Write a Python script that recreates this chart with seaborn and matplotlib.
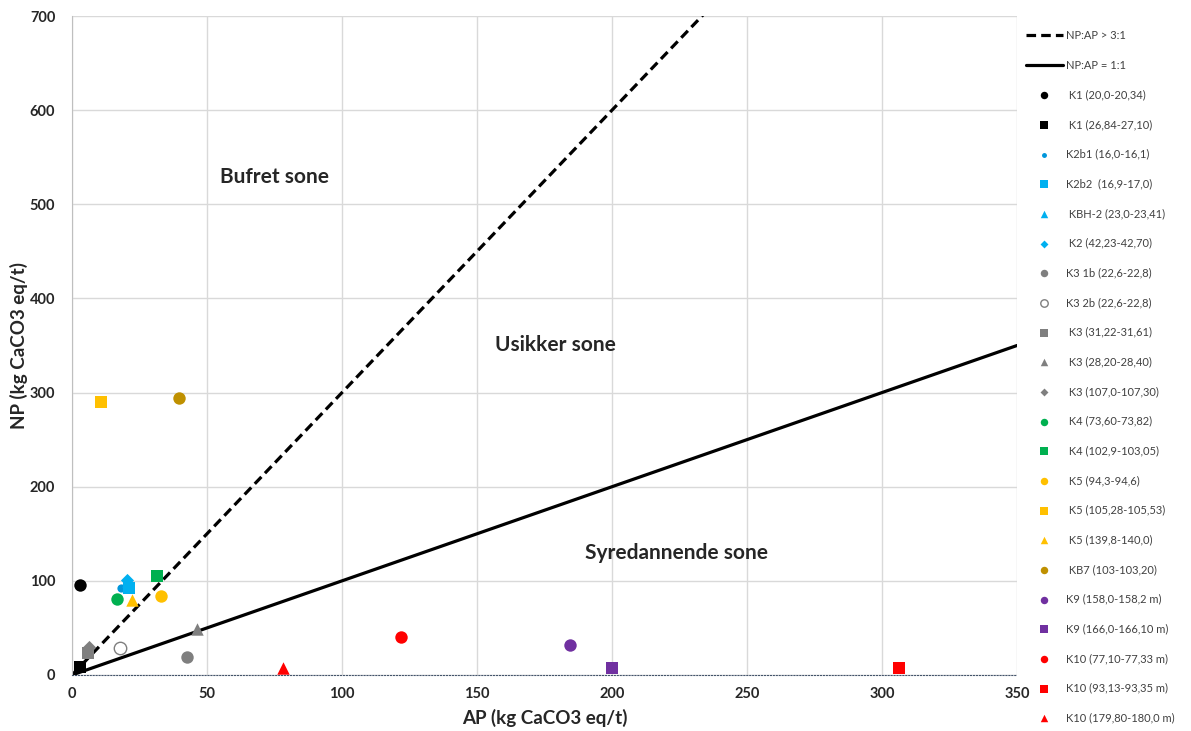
import matplotlib.pyplot as plt
import seaborn as sns
import numpy as np
from matplotlib.ticker import MultipleLocator

# sample labels (legend text) and measured values
labels = [" K1 (20,0-20,34)", " K1 (26,84-27,10)", "K2b1 (16,0-16,1)", "K2b2  (16,9-17,0)",
          " KBH-2 (23,0-23,41)", " K2 (42,23-42,70)", "K3 1b (22,6-22,8)", "K3 2b (22,6-22,8)",
          " K3 (31,22-31,61)", " K3 (28,20-28,40)", " K3 (107,0-107,30)", " K4 (73,60-73,82)",
          " K4 (102,9-103,05)", " K5 (94,3-94,6)", " K5 (105,28-105,53)", " K5 (139,8-140,0)",
          " KB7 (103-103,20)", "K9 (158,0-158,2 m)", "K9 (166,0-166,10 m)", "K10 (77,10-77,33 m)",
          "K10 (93,13-93,35 m)", "K10 (179,80-180,0 m)"]
ap = [3.0, 3.0, 18.1, 21.2, 20.9, 20.4, 42.5, 17.8, 6.0, 46.2, 6.4, 16.5,
      31.5, 33.1, 10.7, 22.1, 39.6, 184.4, 200.0, 121.9, 306.3, 78.1]
npv = [95.6, 8.5, 92.5, 92.0, 100.0, 101.0, 18.8, 29.0, 23.0, 48.6, 29.4, 81.0,
       105.0, 83.6, 290.0, 79.7, 294.0, 31.9, 7.4, 40.4, 7.4, 7.4]

# styles
markers = ["o", "s", "o", "s", "^", "D", "o", "o", "s", "^", "D", "o",
           "s", "o", "s", "^", "o", "o", "s", "o", "s", "^"]
colors = ["#000000", "#000000", "#0096DB", "#00B0F0", "#00B0F0", "#00B0F0", "#7F7F7F", "#FFFFFF",
          "#7F7F7F", "#7F7F7F", "#7F7F7F", "#00B050", "#00B050", "#FFC000", "#FFC000", "#FFC000",
          "#BF9000", "#7030A0", "#7030A0", "#FF0000", "#FF0000", "#FF0000"]

# reference ratio lines NP:AP
line_x = np.array([0, 350])
ratios = [3, 1]
ratio_labels = ["NP:AP > 3:1", "NP:AP = 1:1"]

zones = ["Bufret sone", "Usikker sone", "Syredannende sone"]
zone_x = [75, 179, 224]
zone_y = [529, 351, 130]

sns.set_style("white")
plt.rcParams["font.family"] = ["Lato", "DejaVu Sans"]

fig = plt.figure(figsize=(11.91, 7.31), dpi=100)
ax = fig.add_axes([72 / 1191, 56 / 731, 945 / 1191, 659 / 731])

sns.lineplot(x=line_x, y=ratios[0] * line_x, ax=ax, color="black", lw=2.3,
             linestyle=(0, (3, 1.6)), label=ratio_labels[0])
sns.lineplot(x=line_x, y=ratios[1] * line_x, ax=ax, color="black", lw=2.3,
             label=ratio_labels[1])

for i in range(len(labels)):
    size = 80
    if markers[i] == "D":
        size = 45
    if i == 2:
        size = 35
    if colors[i] == "#FFFFFF":
        sns.scatterplot(x=[ap[i]], y=[npv[i]], ax=ax, marker="o", color="white",
                        edgecolor="#7F7F7F", linewidth=1.0, s=size, label=labels[i], zorder=3)
    else:
        sns.scatterplot(x=[ap[i]], y=[npv[i]], ax=ax, marker=markers[i], color=colors[i],
                        linewidth=0, s=size, label=labels[i], zorder=3)

for t, zx, zy in zip(zones, zone_x, zone_y):
    ax.text(zx, zy, t, ha="center", va="center", fontsize=15, fontweight="bold", color="#262626")

ax.set_xlim(0, 350)
ax.set_ylim(0, 700)
ax.xaxis.set_major_locator(MultipleLocator(50))
ax.yaxis.set_major_locator(MultipleLocator(100))
ax.xaxis.set_minor_locator(MultipleLocator(10))
ax.yaxis.set_minor_locator(MultipleLocator(20))
ax.grid(True, which="major", color="#D9D9D9", lw=1)
ax.set_axisbelow(True)
for s in ["top", "right"]:
    ax.spines[s].set_visible(False)
ax.spines["left"].set_color("#BFBFBF")
ax.spines["bottom"].set_color("#44546A")
ax.spines["bottom"].set_linestyle(":")
ax.tick_params(axis="y", which="both", direction="in", length=4, color="#BFBFBF", pad=12)
ax.tick_params(axis="x", which="both", direction="in", length=4, color="#44546A", pad=9)
ax.tick_params(axis="both", which="major", labelsize=10.5)
for lab in ax.get_xticklabels() + ax.get_yticklabels():
    lab.set_fontweight("bold")
    lab.set_color("#262626")

ax.set_xlabel("AP (kg CaCO3 eq/t)", fontsize=13.5, fontweight="bold", color="#262626", labelpad=5)
ax.set_ylabel("NP (kg CaCO3 eq/t)", fontsize=13.5, fontweight="bold", color="#262626", labelpad=1)

ax.legend(loc="upper left", bbox_to_anchor=(1026 / 1191, 1 - 30 / 731), bbox_transform=fig.transFigure,
          frameon=False, fontsize=8, labelspacing=1.68, handlelength=3.3, handletextpad=0.3,
          markerscale=0.6, borderaxespad=0, borderpad=0, labelcolor="#404040")

fig.savefig("out.png", dpi=100)
